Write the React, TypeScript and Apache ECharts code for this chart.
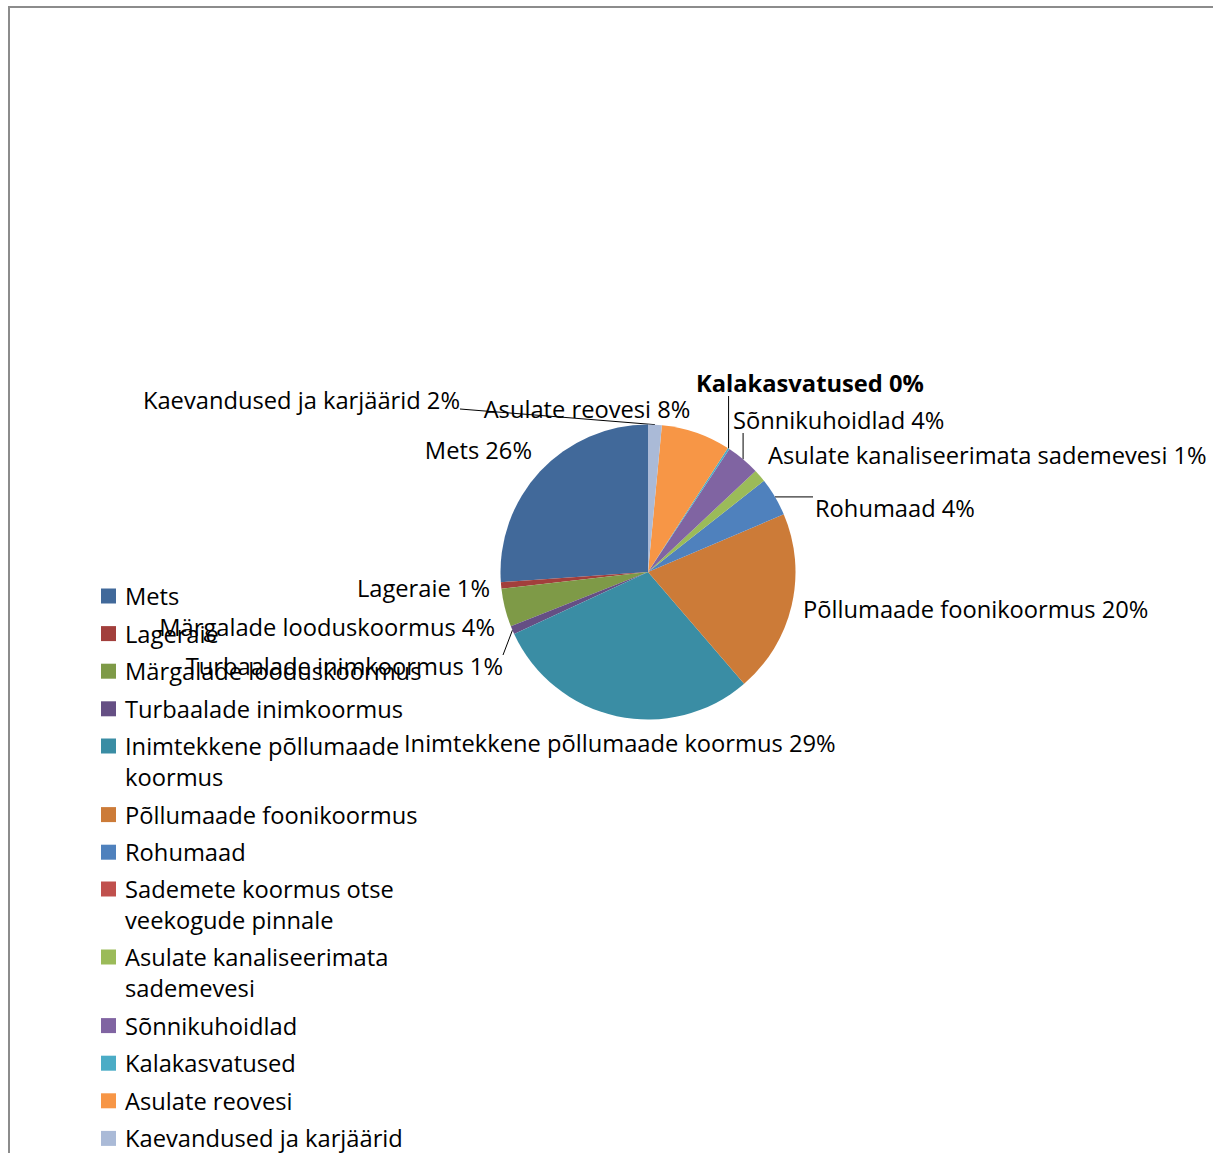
import React, { useEffect, useRef } from "react";
import * as echarts from "echarts";

// ---- data ----
const categories = [
  "Mets",
  "Lageraie",
  "Märgalade looduskoormus",
  "Turbaalade inimkoormus",
  "Inimtekkene põllumaade koormus",
  "Põllumaade foonikoormus",
  "Rohumaad",
  "Sademete koormus otse veekogude pinnale",
  "Asulate kanaliseerimata sademevesi",
  "Sõnnikuhoidlad",
  "Kalakasvatused",
  "Asulate reovesi",
  "Kaevandused ja karjäärid",
];
const shares = [26.1, 0.7, 4.2, 0.9, 29.4, 20.1, 4.2, 0, 1.4, 3.7, 0.2, 7.6, 1.5];
const legendTexts = [
  "Mets",
  "Lageraie",
  "Märgalade looduskoormus",
  "Turbaalade inimkoormus",
  "\nInimtekkene põllumaade\nkoormus",
  "Põllumaade foonikoormus",
  "Rohumaad",
  "\nSademete koormus otse\nveekogude pinnale",
  "\nAsulate kanaliseerimata\nsademevesi",
  "Sõnnikuhoidlad",
  "Kalakasvatused",
  "Asulate reovesi",
  "Kaevandused ja karjäärid",
];

// ---- styles / layout ----
const colors = [
  "#41699A", "#A23F3C", "#7E9A47", "#654F84", "#3A8DA4", "#CC7B38",
  "#4F81BD", "#C0504D", "#9BBB59", "#8064A2", "#4BACC6", "#F79646", "#AABAD7",
];
const FONT = "'Open Sans', 'Noto Sans', sans-serif";
const FS = 23.7;
// label anchor (x, y) and alignment for each slice label
const labelX = [532, 490, 495, 503, 404, 803, 815, 0, 768, 733, 696, 587, 460];
const labelY = [450, 588, 627, 666, 743, 609, 508, 0, 455, 420, 383, 409, 400];
const labelAlign = ["right", "right", "right", "right", "left", "left", "left", "left", "left", "left", "left", "center", "right"];
const lineMode: (string | null)[] = [null, null, null, "rightTop", null, null, "side", null, null, "up", "up", null, "rightBottom"];
const labelVisible = [true, true, true, true, true, true, true, false, true, true, true, true, true];
const boldLabel = [false, false, false, false, false, false, false, false, false, false, true, false, false];

const legendGroups = [
  { items: [0, 1, 2, 3], top: 580.5 },
  { items: [4, 5, 6], top: 699.5 },
  { items: [7], top: 842.5 },
  { items: [8, 9, 10, 11, 12], top: 910.5 },
];

function buildOption(): any {
  const data = categories.map((name, i) => ({
    name,
    value: shares[i],
    itemStyle: { color: colors[i], borderWidth: shares[i] === 0 ? 0 : 0.8 },
    label: { show: labelVisible[i], fontWeight: boldLabel[i] ? "bold" : "normal" },
    labelLine: { show: lineMode[i] != null },
  }));
  const legends = legendGroups.map((g) => ({
    orient: "vertical",
    left: 101,
    top: g.top,
    padding: 0,
    itemWidth: 15,
    itemHeight: 15,
    itemGap: 6.6,
    icon: "rect",
    selectedMode: false,
    data: g.items.map((i) => categories[i]),
    formatter: (name: string) => legendTexts[categories.indexOf(name)],
    textStyle: {
      fontFamily: FONT,
      fontSize: FS,
      lineHeight: 31,
      color: "#000",
      padding: [0, 0, 0, 4],
    },
  }));
  return {
    animation: false,
    backgroundColor: "transparent",
    legend: legends,
    series: [
      {
        type: "pie",
        center: [648, 572],
        radius: 147.5,
        startAngle: 90,
        clockwise: false,
        avoidLabelOverlap: false,
        percentPrecision: 4,
        data,
        label: {
          position: "outside",
          fontFamily: FONT,
          fontSize: FS,
          lineHeight: 26,
          color: "#000",
          formatter: (p: any) => `${p.name} ${Math.round(p.percent)}%`,
        },
        labelLine: { show: true, length: 10, length2: 10, lineStyle: { color: "#000", width: 1 } },
        labelLayout: (p: any) => {
          const i = p.dataIndex;
          const w = p.labelRect.width;
          const h = p.labelRect.height;
          const al = labelAlign[i];
          const ax = labelX[i];
          const ay = labelY[i];
          const left = al === "left" ? ax : al === "right" ? ax - w : ax - w / 2;
          const top = ay - h / 2;
          const res: any = { x: ax, y: ay, align: al, verticalAlign: "middle" };
          const a = p.labelLinePoints && p.labelLinePoints[0];
          const mode = lineMode[i];
          if (a && mode) {
            let end: number[] = a;
            if (mode === "up") end = [a[0], top + h];
            else if (mode === "side") end = [left - 2, a[1]];
            else if (mode === "rightBottom") end = [left + w, top + h - 4];
            else if (mode === "rightTop") end = [left + w, top + 2];
            res.labelLinePoints = [a, end];
          }
          return res;
        },
      },
    ],
  };
}

export default function App() {
  const ref = useRef<HTMLDivElement>(null);
  useEffect(() => {
    const chart = echarts.init(ref.current!, null, { renderer: "svg" });
    chart.setOption(buildOption());
    return () => chart.dispose();
  }, []);
  return (
    <div style={{ position: "absolute", left: 0, top: 0, width: 1213, height: 1153, overflow: "hidden", background: "#fff" }}>
      <div
        style={{
          position: "absolute",
          left: 8,
          top: 6,
          width: 1205,
          height: 1147,
          boxSizing: "border-box",
          borderTop: "2px solid #8c8c8c",
          borderLeft: "2px solid #8c8c8c",
        }}
      />
      <div ref={ref} style={{ position: "absolute", left: 0, top: 0, width: 1213, height: 1153 }} />
    </div>
  );
}
